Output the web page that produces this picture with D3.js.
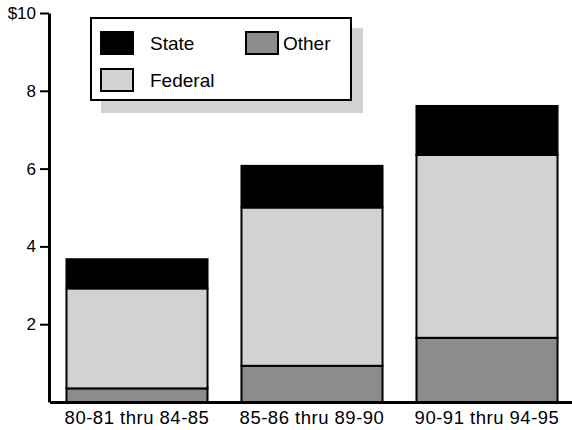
<!DOCTYPE html>
<html lang="en">
    <head>
        <meta charset="utf-8">
        <title>Stacked Funding Chart</title>
        <script type="text/javascript" src="https://d3js.org/d3.v7.min.js"></script>
        <style type="text/css">
            body { margin: 0; background: #fff; }
            text { font-family: "Liberation Sans", Arial, sans-serif; fill: #000; }
            .axis path, .axis line { stroke: #000; }
            .bar rect { stroke: #000; stroke-width: 2; }
        </style>
    </head>
    <body>
        <script type="text/javascript">
            // Data
            var periods = ["80-81 thru 84-85", "85-86 thru 89-90", "90-91 thru 94-95"];
            var other   = [0.35, 0.93, 1.65];
            var federal = [2.57, 4.07, 4.70];
            var state   = [0.75, 1.07, 1.26];
            var yTicks  = [2, 4, 6, 8, 10];

            var seriesNames = ["Other", "Federal", "State"];   // bottom to top
            var colors = { Other: "#8c8c8c", Federal: "#d2d2d2", State: "#000000" };

            var w = 572, h = 430;

            var rows = periods.map(function(p, i) {
                return { period: p, Other: other[i], Federal: federal[i], State: state[i] };
            });

            var stacked = d3.stack().keys(seriesNames)(rows);

            // Scales
            var xScale = d3.scaleBand()
                        .domain(periods)
                        .range([49.5, 574.5])
                        .paddingInner(0.194)
                        .paddingOuter(0.097);

            var yScale = d3.scaleLinear()
                        .domain([0, 10])
                        .range([402, 13]);

            var svg = d3.select("body")
                        .append("svg")
                        .attr("width", w)
                        .attr("height", h);

            // Bars
            svg.selectAll("g.bar")
                .data(stacked)
                .enter()
                .append("g")
                .attr("class", "bar")
                .attr("fill", function(d) { return colors[d.key]; })
                .selectAll("rect")
                .data(function(d) { return d; })
                .enter()
                .append("rect")
                .attr("x", function(d) { return xScale(d.data.period); })
                .attr("width", xScale.bandwidth())
                .attr("y", function(d) { return yScale(d[1]); })
                .attr("height", function(d) { return yScale(d[0]) - yScale(d[1]); });

            // Axes
            var yAxis = d3.axisLeft(yScale)
                        .tickValues(yTicks)
                        .tickSize(9)
                        .tickSizeOuter(0)
                        .tickPadding(4)
                        .tickFormat(function(d) { return d === 10 ? "$10" : d; });

            var gy = svg.append("g")
                .attr("class", "axis")
                .attr("transform", "translate(49,0)")
                .call(yAxis);
            gy.select(".domain").attr("stroke-width", 3);
            gy.selectAll(".tick line").attr("stroke-width", 2);
            gy.selectAll("text").style("font-size", "17px");

            var xAxis = d3.axisBottom(xScale)
                        .tickSize(0)
                        .tickSizeOuter(0)
                        .tickPadding(9);

            var gx = svg.append("g")
                .attr("class", "axis")
                .attr("transform", "translate(0,402)")
                .call(xAxis);
            gx.select(".domain").attr("stroke-width", 3);
            gx.selectAll("text")
                .style("font-size", "18.5px")
                .style("letter-spacing", "0.5px");

            // Legend
            var legend = svg.append("g").attr("transform", "translate(91,18)");
            legend.append("rect")
                .attr("x", 10).attr("y", 10)
                .attr("width", 262).attr("height", 85)
                .attr("fill", "#d2d2d2");
            legend.append("rect")
                .attr("width", 260).attr("height", 82)
                .attr("fill", "#fff")
                .attr("stroke", "#000")
                .attr("stroke-width", 2);

            var legendItems = [
                { key: "State",   x: 10,  y: 14 },
                { key: "Other",   x: 155, y: 14 },
                { key: "Federal", x: 10,  y: 51 }
            ];
            var li = legend.selectAll("g.item")
                .data(legendItems)
                .enter()
                .append("g")
                .attr("class", "item")
                .attr("transform", function(d) { return "translate(" + d.x + "," + d.y + ")"; });
            li.append("rect")
                .attr("width", 32).attr("height", 22)
                .attr("fill", function(d) { return colors[d.key]; })
                .attr("stroke", "#000")
                .attr("stroke-width", 2);
            li.append("text")
                .attr("x", function(d) { return d.key === "Other" ? 37 : 49; })
                .attr("y", 18)
                .style("font-size", "19px")
                .text(function(d) { return d.key; });
        </script>
    </body>
</html>
